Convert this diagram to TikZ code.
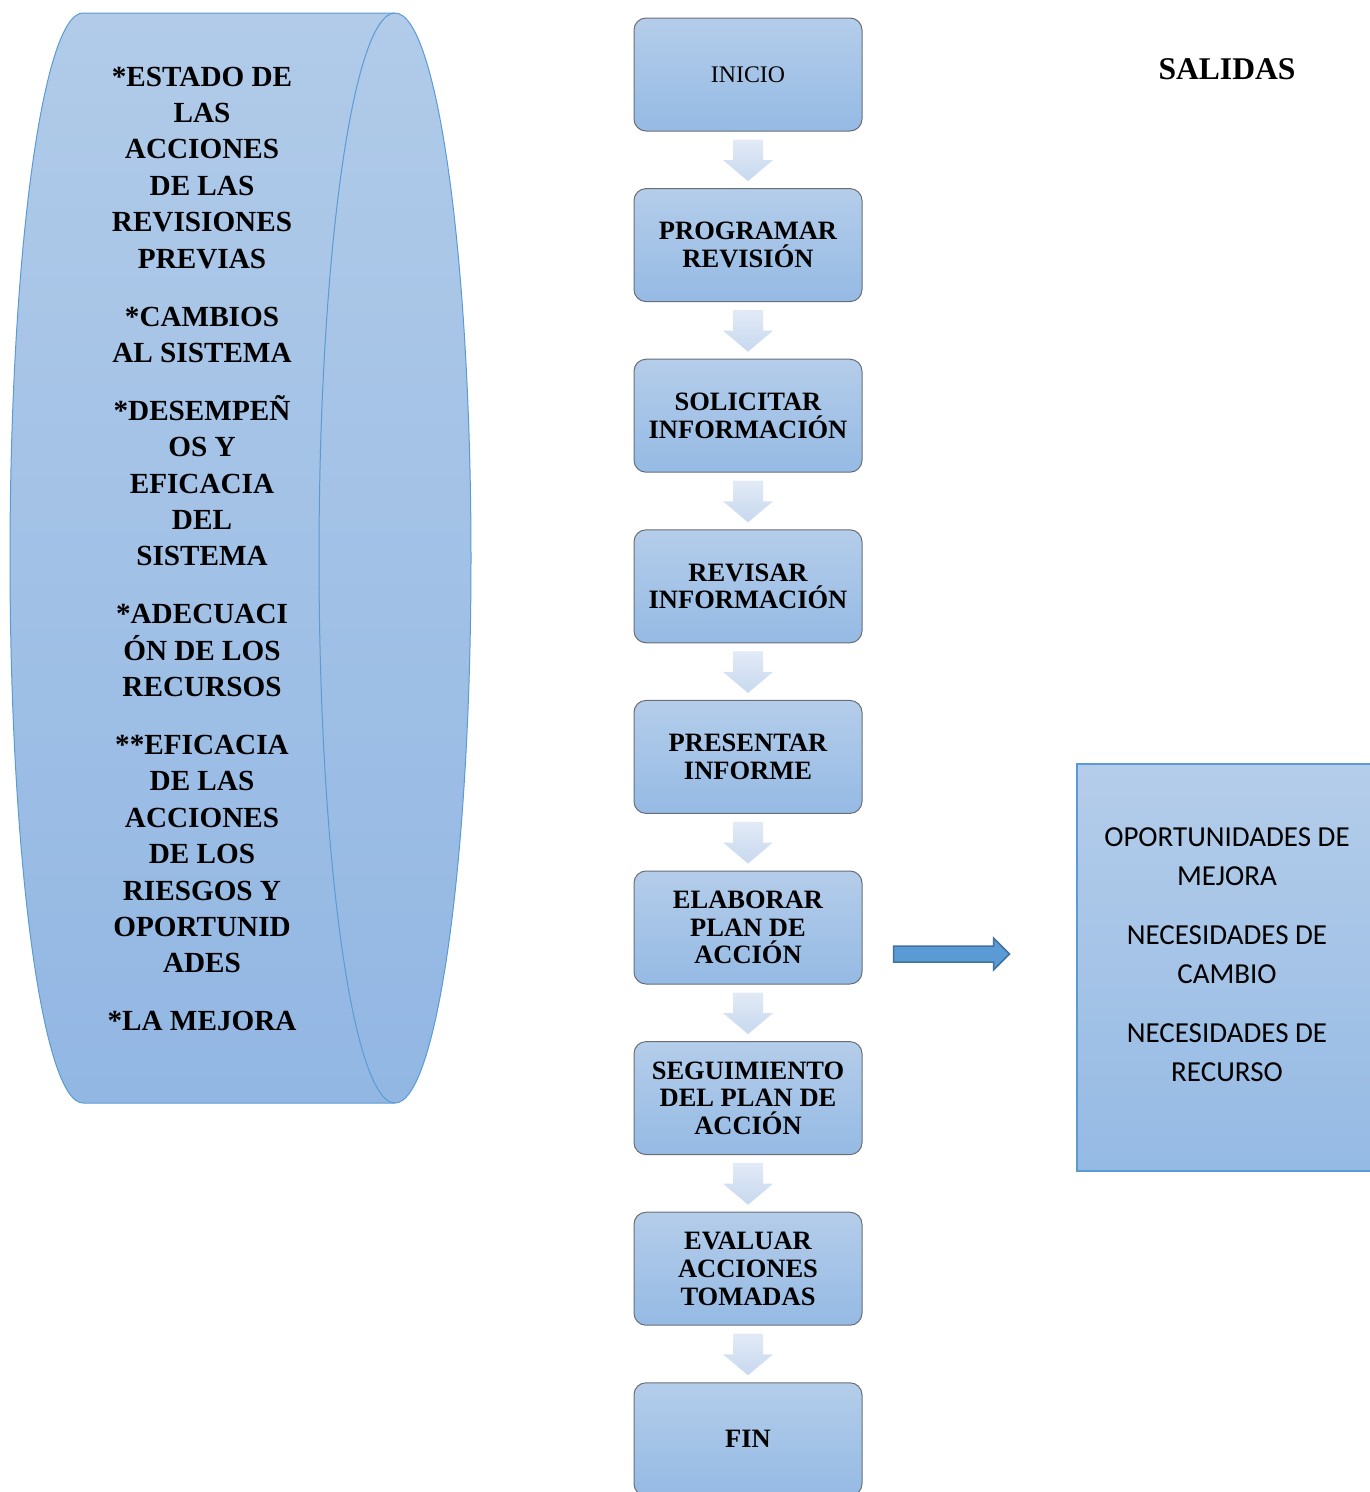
\documentclass[tikz,border=0pt]{standalone}
\usepackage{fontspec}
\setmainfont{Liberation Serif}
\newfontfamily\outfont{Carlito}
\usetikzlibrary{calc}
\definecolor{cylTop}{RGB}{177,203,233}
\definecolor{cylBot}{RGB}{146,183,227}
\definecolor{edgeBlue}{RGB}{91,155,213}
\definecolor{boxTop}{RGB}{180,205,234}
\definecolor{boxBot}{RGB}{149,186,228}
\definecolor{boxEdge}{RGB}{105,110,118}
\definecolor{arrTop}{RGB}{226,234,246}
\definecolor{arrBot}{RGB}{199,216,239}
\definecolor{rarrFill}{RGB}{91,155,213}
\definecolor{rarrEdge}{RGB}{65,113,156}
\tikzset{
  stepbox/.style={rounded corners=12pt, draw=boxEdge, line width=1pt,
    top color=boxTop, bottom color=boxBot, minimum width=228pt,
    minimum height=113pt, inner sep=0pt, align=center,
    font=\fontsize{26.5}{27.7}\selectfont\bfseries},
  downarr/.style={top color=arrTop, bottom color=arrBot, draw=none},
  rightarr/.style={fill=rarrFill, draw=rarrEdge, line width=1.5pt, line join=miter},
  outbox/.style={draw=edgeBlue, line width=1.5pt, top color=boxTop, bottom color=boxBot,
    minimum width=302pt, minimum height=407pt, inner sep=0pt, anchor=north west},
}
\begin{document}
\begin{tikzpicture}[x=1pt,y=1pt]
\useasboundingbox (0,0) rectangle (1369,-1492);

% input cylinder lying on its side
\shade[top color=cylTop, bottom color=cylBot, draw=edgeBlue, line width=1pt]
  (395,-13) -- (83,-13)
  arc[start angle=90, end angle=270, x radius=73, y radius=545]
  -- (395,-1103)
  arc[start angle=-90, end angle=90, x radius=76, y radius=545] -- cycle;
\draw[edgeBlue, line width=1pt] (395,-13)
  arc[start angle=90, end angle=270, x radius=76, y radius=545];

\node[align=center, inner sep=0pt, font=\fontsize{29.2}{36.4}\selectfont\bfseries]
  (inputs) at (202,-549) {*ESTADO DE\\LAS\\ACCIONES\\DE LAS\\REVISIONES\\PREVIAS\\[21.5pt]
  *CAMBIOS\\AL SISTEMA\\[21.5pt]
  *DESEMPEÑ\\OS Y\\EFICACIA\\DEL\\SISTEMA\\[21.5pt]
  *ADECUACI\\ÓN DE LOS\\RECURSOS\\[21.5pt]
  **EFICACIA\\DE LAS\\ACCIONES\\DE LOS\\RIESGOS Y\\OPORTUNID\\ADES\\[21.5pt]
  *LA MEJORA};

% process steps
\node[stepbox, font=\fontsize{23.8}{25}\selectfont] (b1) at (748,-74.5) {INICIO};
\node[stepbox] (b2) at (748,-245.1) {PROGRAMAR\\REVISIÓN};
\node[stepbox] (b3) at (748,-415.7) {SOLICITAR\\INFORMACIÓN};
\node[stepbox] (b4) at (748,-586.3) {REVISAR\\INFORMACIÓN};
\node[stepbox] (b5) at (748,-756.9) {PRESENTAR\\INFORME};
\node[stepbox] (b6) at (748,-927.5) {ELABORAR\\PLAN DE\\ACCIÓN};
\node[stepbox] (b7) at (748,-1098.1) {SEGUIMIENTO\\DEL PLAN DE\\ACCIÓN};
\node[stepbox] (b8) at (748,-1268.7) {EVALUAR\\ACCIONES\\TOMADAS};
\node[stepbox] (b9) at (748,-1439.3) {FIN};

% block arrows between steps
\foreach \a/\b in {b1/b2,b2/b3,b3/b4,b4/b5,b5/b6,b6/b7,b7/b8,b8/b9}{
  \shade[downarr] ($(\a.south)+(-15,-8)$) -- ($(\a.south)+(15,-8)$)
    -- ($(\b.north)+(15,28)$) -- ($(\b.north)+(25,28)$)
    -- ($(\b.north)+(0,7)$) -- ($(\b.north)+(-25,28)$)
    -- ($(\b.north)+(-15,28)$) -- cycle;
}

% outputs
\node[font=\fontsize{31.6}{34}\selectfont\bfseries] (salidas) at (1227,-69) {SALIDAS};
\node[outbox] (out) at (1076,-763) {};
\node[align=center, inner sep=0pt, font=\outfont\fontsize{29}{39}\selectfont]
  (outtxt) at (1227,-955) {OPORTUNIDADES DE\\MEJORA\\[20pt]NECESIDADES DE\\CAMBIO\\[20pt]NECESIDADES DE\\RECURSO};

% arrow to the outputs
\coordinate (ra) at ($(b6.east)+(31,-26.5)$);
\coordinate (rb) at ($(out.west)+(-67,0)$);
\draw[rightarr] ($(ra)+(0,8)$) -- ($(ra)+(100,8)$) -- ($(ra)+(100,16)$)
  -- ($(ra)+(116,0)$) -- ($(ra)+(100,-16)$) -- ($(ra)+(100,-8)$)
  -- ($(ra)+(0,-8)$) -- cycle;
\end{tikzpicture}
\end{document}
